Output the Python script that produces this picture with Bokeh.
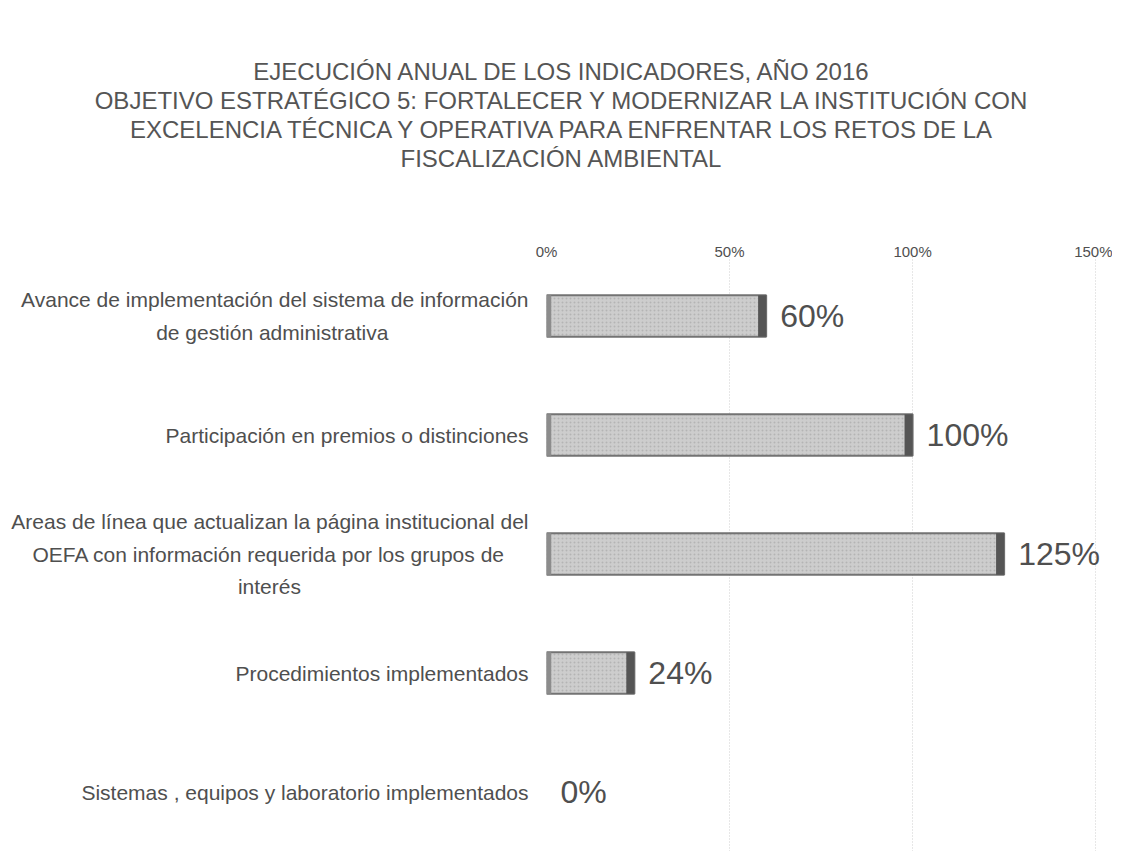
from bokeh.plotting import figure
from bokeh.models import Range1d, FixedTicker, ColumnDataSource, LabelSet, Div
from bokeh.layouts import column
from bokeh.core.properties import value
from bokeh.embed import file_html
from bokeh.resources import INLINE

NB = "\u00a0"

title_lines = [
    "EJECUCIÓN ANUAL DE LOS INDICADORES, AÑO 2016",
    "OBJETIVO ESTRATÉGICO 5: FORTALECER Y MODERNIZAR LA INSTITUCIÓN CON",
    "EXCELENCIA TÉCNICA Y OPERATIVA PARA ENFRENTAR LOS RETOS DE LA",
    "FISCALIZACIÓN AMBIENTAL",
]
# category label lines (top to bottom)
category_lines = [
    ["Avance de implementación del sistema de información",
     "de gestión administrativa"],
    ["Participación en premios o distinciones"],
    ["Areas de línea que actualizan la página institucional del",
     "OEFA con información requerida por los grupos de",
     "interés"],
    ["Procedimientos implementados"],
    ["Sistemas , equipos y laboratorio implementados"],
]
# right padding (non-breaking spaces) so that short lines sit centred under long ones
line_pad = [[0, 24], [0], [0, 4, 39], [0], [0]]
values = [60, 100, 125, 24, 0]
x_ticks = [0, 50, 100, 150]
x_tick_labels = ["0%", "50%", "100%", "150%"]

FONT = "Liberation Sans"
TXT = "#4f4f4f"

n = len(values)
ypos = [n - 1 - i for i in range(n)]
cat_labels = ["\n".join(l + NB * k for l, k in zip(lines, pads))
              for lines, pads in zip(category_lines, line_pad)]
labels = [f"{v}%" for v in values]

title = Div(
    text="<br>".join(title_lines),
    width=1112, height=166,
    styles={"text-align": "center", "font-family": FONT, "font-size": "24px",
            "line-height": "29px", "color": "#555555", "padding-top": "52px",
            "width": "1112px", "box-sizing": "border-box"},
)

p = figure(width=1112, height=675, output_backend="svg", toolbar_location=None,
           x_range=Range1d(0, 154.6), y_range=Range1d(-0.5, n - 0.5),
           x_axis_location="above", min_border_left=546, min_border_right=0,
           min_border_top=80, min_border_bottom=0)
p.outline_line_color = None
p.background_fill_color = "white"
p.border_fill_color = "white"

xa = p.xaxis[0]
xa.ticker = FixedTicker(ticks=x_ticks)
xa.major_label_overrides = {t: l for t, l in zip(x_ticks, x_tick_labels)}
xa.axis_line_color = None
xa.major_tick_line_color = None
xa.major_tick_out = 0
xa.major_tick_in = 0
xa.minor_tick_line_color = None
xa.major_label_text_font = FONT
xa.major_label_text_font_size = "15px"
xa.major_label_text_color = TXT
xa.major_label_standoff = -3

ya = p.yaxis[0]
ya.ticker = FixedTicker(ticks=ypos)
ya.major_label_overrides = {y: c for y, c in zip(ypos, cat_labels)}
ya.axis_line_color = None
ya.major_tick_line_color = None
ya.major_tick_out = 0
ya.major_tick_in = 0
ya.minor_tick_line_color = None
ya.major_label_text_font = FONT
ya.major_label_text_font_size = "21px"
ya.major_label_text_line_height = 1.4
ya.major_label_text_color = TXT
ya.major_label_standoff = 18

p.xgrid.grid_line_color = "#cfcfcf"
p.xgrid.grid_line_dash = "1 2"
p.xgrid.ticker = FixedTicker(ticks=x_ticks)
p.ygrid.grid_line_color = None

src = ColumnDataSource(dict(
    y=ypos, v=values, lab=labels,
    edge=[max(v - 2.2, 0) for v in values],
    ledge=[min(v, 1.3) for v in values],
    la=[1.0 if v > 0 else 0.0 for v in values],
))
p.hbar(y="y", left=0, right="v", height=0.35, source=src,
       fill_color="#cdcdcd", line_color="#737373", line_width=2, line_alpha="la",
       hatch_pattern="dot", hatch_color="#a9a9a9", hatch_scale=4, hatch_alpha=0.7)
p.hbar(y="y", left=0, right="ledge", height=0.35, source=src,
       fill_color="#8c8c8c", line_color=None)
p.hbar(y="y", left="edge", right="v", height=0.35, source=src,
       fill_color="#555555", line_color=None)

p.add_layout(LabelSet(x="v", y="y", text="lab", source=src, x_offset=14,
                      text_baseline="middle", text_font=value(FONT),
                      text_font_size="32px", text_color=TXT))

layout = column(title, p, spacing=0)
open("out.html", "w").write(file_html(layout, INLINE))
